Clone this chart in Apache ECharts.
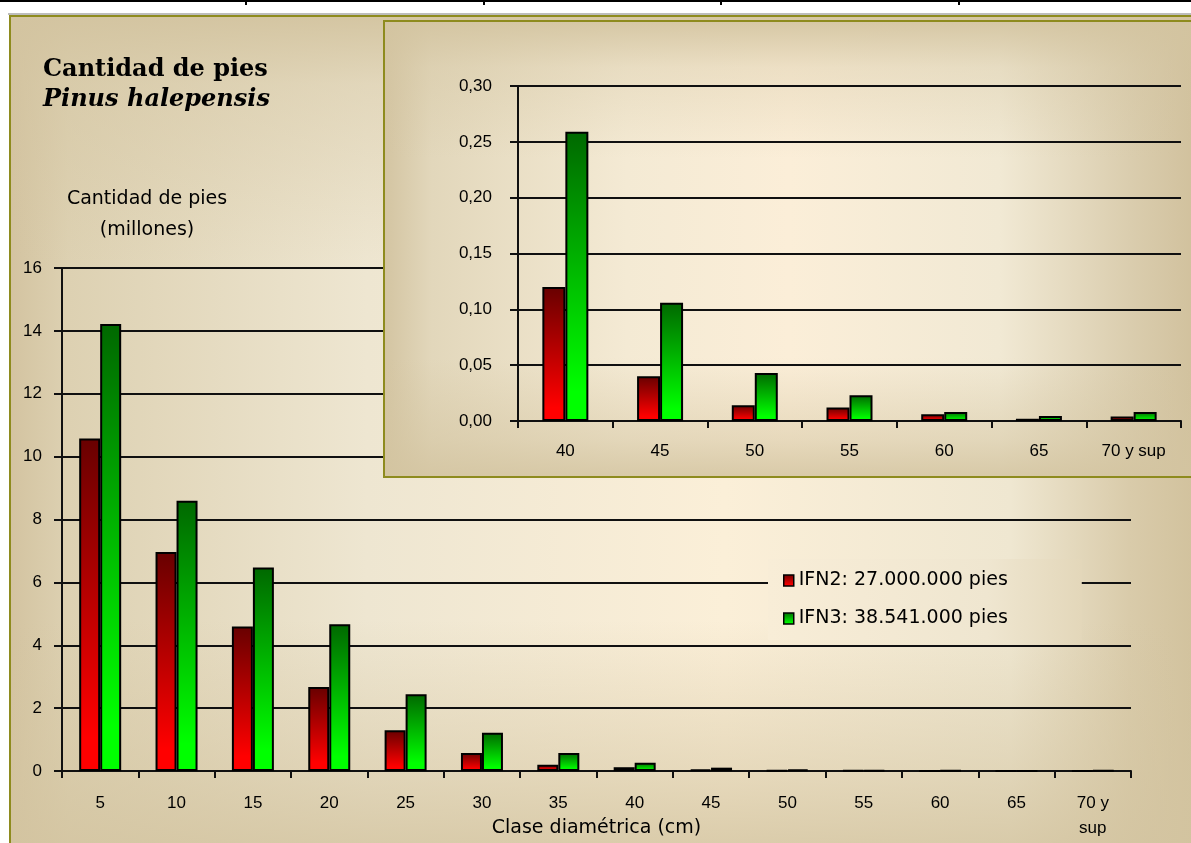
<!DOCTYPE html>
<html>
<head>
<meta charset="utf-8">
<script src="https://cdn.jsdelivr.net/npm/echarts@6/dist/echarts.min.js"></script>
<style>
  html, body { margin: 0; padding: 0; background: #ffffff; }
  #chart { width: 1191px; height: 843px; }
</style>
</head>
<body>
<div id="chart"></div>
<script>
// Diameter classes (cm) and number of trees (millions) per national forest inventory
const categories = ['5', '10', '15', '20', '25', '30', '35', '40', '45', '50', '55', '60', '65', '70 y\nsup'];
const ifn2Values = [10.58, 6.97, 4.60, 2.67, 1.30, 0.57, 0.20, 0.120, 0.040, 0.014, 0.012, 0.006, 0.002, 0.004];
const ifn3Values = [14.22, 8.60, 6.47, 4.67, 2.44, 1.22, 0.57, 0.259, 0.106, 0.043, 0.023, 0.008, 0.0045, 0.008];
const seriesNames = ['IFN2: 27.000.000 pies', 'IFN3: 38.541.000 pies'];

// Zoomed panel: classes from 40 cm upwards
const detailStart = 7;
const detailCategories = categories.slice(detailStart).map(c => c.replace('\n', ' '));
const detailIfn2 = ifn2Values.slice(detailStart);
const detailIfn3 = ifn3Values.slice(detailStart);

const mainTicks = { min: 0, max: 16, interval: 2 };
const detailTicks = { min: 0, max: 0.30, interval: 0.05 };

const titleLines = ['Cantidad de pies', 'Pinus halepensis'];
const yAxisTitle = ['Cantidad de pies', '(millones)'];
const xAxisTitle = 'Clase diamétrica (cm)';

const chart = echarts.init(document.getElementById('chart'), null, { renderer: 'canvas' });

const lin = (x, y, x2, y2, stops) => ({
  type: 'linear', x, y, x2, y2,
  colorStops: stops.map(([offset, color]) => ({ offset, color }))
});

const redFill = lin(0, 0, 0, 1, [[0, '#680000'], [0.9, '#ff0000'], [1, '#ff0000']]);
const greenFill = lin(0, 0, 0, 1, [[0, '#006800'], [0.9, '#00ff00'], [1, '#00ff00']]);

const mainBgH = lin(0, 0, 1, 0, [
  [0, '#d3c3a0'], [0.05, '#ddd1b2'], [0.3, '#eee6d1'], [0.6, '#fbefd8'],
  [0.84, '#efe7d1'], [0.94, '#d9cbaa'], [1, '#d1c19c']
]);
const mainBgV = lin(0, 0, 0, 1, [
  [0, 'rgba(211,196,160,0.95)'], [0.08, 'rgba(211,196,160,0.45)'], [0.3, 'rgba(211,196,160,0)'],
  [0.72, 'rgba(211,196,160,0)'], [0.9, 'rgba(211,196,160,0.5)'], [1, 'rgba(211,196,160,0.85)']
]);
const insetBgH = lin(0, 0, 1, 0, [
  [0, '#d3c4a1'], [0.06, '#e2d7bb'], [0.3, '#f4ead4'], [0.5, '#fbeed8'],
  [0.76, '#f1e9d4'], [0.92, '#dacdae'], [1, '#d1c19d']
]);
const insetBgV = lin(0, 0, 0, 1, [
  [0, 'rgba(211,196,160,0.9)'], [0.1, 'rgba(211,196,160,0.35)'], [0.3, 'rgba(211,196,160,0)'],
  [0.74, 'rgba(211,196,160,0)'], [0.92, 'rgba(211,196,160,0.5)'], [1, 'rgba(211,196,160,0.85)']
]);
const legendBg = lin(0, 0, 1, 0, [[0, '#f8edd7'], [0.7, '#efe6d0'], [1, '#e3d7ba']]);

const olive = '#8e8b1e';
const ink = '#101010';
const labelFont = { fontFamily: 'Liberation Sans', fontSize: 17, color: '#000' };
const nameFont = '19px "DejaVu Sans"';

const barStyle = fill => ({ color: fill, borderColor: '#000', borderWidth: 2 });

const option = {
  animation: false,
  backgroundColor: '#ffffff',
  graphic: [
    // table rule above the chart area
    { type: 'rect', z: -5, shape: { x: 0, y: 0, width: 1191, height: 2 }, style: { fill: '#000' } },
    ...[245, 483, 720, 958].map(x => ({
      type: 'rect', z: -5, shape: { x: x, y: 0, width: 2, height: 5 }, style: { fill: '#000' }
    })),
    { type: 'rect', z: -5, shape: { x: 8, y: 13, width: 1183, height: 2 }, style: { fill: '#bdbdbd' } },
    // main chart area
    { type: 'rect', z: -4, shape: { x: 10, y: 16, width: 1190, height: 840 },
      style: { fill: mainBgH, stroke: olive, lineWidth: 2 } },
    { type: 'rect', z: -3, shape: { x: 11, y: 17, width: 1188, height: 838 },
      style: { fill: mainBgV } },
    // zoomed panel frame
    { type: 'rect', z: 8, shape: { x: 384, y: 21, width: 810, height: 456 },
      style: { fill: insetBgH, stroke: olive, lineWidth: 2 } },
    { type: 'rect', z: 8, shape: { x: 385, y: 22, width: 808, height: 454 },
      style: { fill: insetBgV } },
    // titles
    { type: 'text', z: 5, style: { text: titleLines[0], x: 43, y: 70, textAlign: 'left', textVerticalAlign: 'middle',
      font: 'bold 24px "DejaVu Serif"', fill: '#000' } },
    { type: 'text', z: 5, style: { text: titleLines[1], x: 43, y: 100, textAlign: 'left', textVerticalAlign: 'middle',
      font: 'italic bold 24px "DejaVu Serif"', fill: '#000' } },
    { type: 'text', z: 5, style: { text: yAxisTitle[0], x: 147, y: 199, textAlign: 'center', textVerticalAlign: 'middle',
      font: nameFont, fill: '#000' } },
    { type: 'text', z: 5, style: { text: yAxisTitle[1], x: 147, y: 230, textAlign: 'center', textVerticalAlign: 'middle',
      font: nameFont, fill: '#000' } }
  ],
  legend: {
    show: true,
    data: seriesNames,
    orient: 'vertical',
    left: 768,
    top: 559,
    icon: 'rect',
    itemWidth: 10,
    itemHeight: 11,
    itemGap: 19,
    padding: [12, 74, 12, 15],
    backgroundColor: legendBg,
    z: 3,
    textStyle: { fontFamily: 'DejaVu Sans', fontSize: 19, color: '#000' },
    itemStyle: { borderColor: '#000', borderWidth: 1.5 },
    selectedMode: false
  },
  grid: [
    { left: 62, right: 60, top: 268, bottom: 72, outerBoundsMode: 'none' },
    { left: 518, right: 10, top: 86, bottom: 422, outerBoundsMode: 'none' }
  ],
  xAxis: [
    {
      type: 'category', gridIndex: 0, data: categories, z: 1,
      name: xAxisTitle, nameLocation: 'middle', nameGap: 48, nameMoveOverlap: false,
      nameTextStyle: { fontFamily: 'DejaVu Sans', fontSize: 19, color: '#000' },
      axisLine: { lineStyle: { color: ink, width: 2 } },
      axisTick: { show: true, length: 7, lineStyle: { color: ink, width: 2 } },
      axisLabel: Object.assign({ interval: 0, margin: 20, lineHeight: 25 }, labelFont),
      splitLine: { show: false }
    },
    {
      type: 'category', gridIndex: 1, data: detailCategories, z: 9,
      axisLine: { lineStyle: { color: ink, width: 2 } },
      axisTick: { show: true, length: 7, lineStyle: { color: ink, width: 2 } },
      axisLabel: Object.assign({ interval: 0, margin: 22 }, labelFont),
      splitLine: { show: false }
    }
  ],
  yAxis: [
    {
      type: 'value', gridIndex: 0, z: 1,
      min: mainTicks.min, max: mainTicks.max, interval: mainTicks.interval,
      axisLine: { show: true, lineStyle: { color: ink, width: 2 } },
      axisTick: { show: true, length: 8, lineStyle: { color: ink, width: 2 } },
      axisLabel: Object.assign({ margin: 20 }, labelFont),
      splitLine: { show: true, lineStyle: { color: ink, width: 2 } }
    },
    {
      type: 'value', gridIndex: 1, z: 9,
      min: detailTicks.min, max: detailTicks.max, interval: detailTicks.interval,
      axisLine: { show: true, lineStyle: { color: ink, width: 2 } },
      axisTick: { show: true, length: 8, lineStyle: { color: ink, width: 2 } },
      axisLabel: Object.assign({ margin: 26, formatter: v => v.toFixed(2).replace('.', ',') }, labelFont),
      splitLine: { show: true, lineStyle: { color: ink, width: 2 } }
    }
  ],
  series: [
    { type: 'bar', name: seriesNames[0], xAxisIndex: 0, yAxisIndex: 0, data: ifn2Values,
      barWidth: 21, barGap: '0%', itemStyle: barStyle(redFill), z: 2 },
    { type: 'bar', name: seriesNames[1], xAxisIndex: 0, yAxisIndex: 0, data: ifn3Values,
      barWidth: 21, barGap: '0%', itemStyle: barStyle(greenFill), z: 2 },
    { type: 'bar', name: seriesNames[0], xAxisIndex: 1, yAxisIndex: 1, data: detailIfn2,
      barWidth: 23, barGap: '0%', itemStyle: barStyle(redFill), z: 10 },
    { type: 'bar', name: seriesNames[1], xAxisIndex: 1, yAxisIndex: 1, data: detailIfn3,
      barWidth: 23, barGap: '0%', itemStyle: barStyle(greenFill), z: 10 }
  ]
};

chart.setOption(option);
</script>
</body>
</html>
